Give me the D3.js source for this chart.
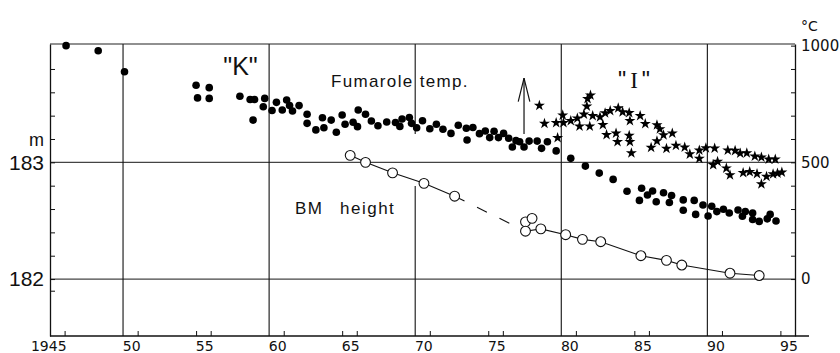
<!DOCTYPE html>
<html><head><meta charset="utf-8">
<script src="https://cdn.jsdelivr.net/npm/d3@7"></script>
<style>
body{margin:0;background:#fff}
svg{display:block}
text{fill:#111}
</style>
</head><body>
<svg id="c" width="840" height="353"></svg>
<script>
// ---- data ----
// fumarole "K" temperature (°C): [year, temp]
const fumaroleK = [[1945.1,1000],[1947.3,978],[1949.1,888],[1954.0,830],[1954.9,820],[1954.1,776],[1954.9,774],[1957.0,783],[1957.7,769],[1958.0,769],[1957.9,681],[1958.7,774],[1958.6,738],[1959.2,722],[1959.5,757],[1959.9,724],[1960.2,767],[1960.4,743],[1960.6,720],[1961.05,743],[1961.6,706],[1961.6,667],[1962.2,639],[1962.65,691],[1962.75,648],[1963.25,681],[1963.6,629],[1964.0,703],[1964.2,663],[1964.75,672],[1965.05,653],[1965.1,724],[1965.6,706],[1966.0,677],[1966.45,657],[1967.05,673],[1967.65,671],[1967.95,654],[1968.1,686],[1968.6,692],[1968.75,667],[1969.1,648],[1969.5,678],[1970.0,644],[1970.45,663],[1970.9,642],[1971.45,624],[1971.95,659],[1972.5,646],[1972.55,596],[1972.95,649],[1973.4,623],[1973.8,634],[1974.1,606],[1974.4,633],[1974.7,606],[1975.05,624],[1975.4,603],[1975.65,566],[1975.9,593],[1976.15,588],[1976.45,566],[1976.8,591],[1977.35,591],[1977.65,560],[1978.05,588],[1978.65,549],[1979.65,517],[1980.65,484],[1981.6,454],[1982.55,427],[1983.5,376],[1984.5,389],[1984.35,337],[1984.9,360],[1985.25,377],[1985.5,331],[1986.0,370],[1986.55,358],[1986.4,328],[1987.35,339],[1987.35,295],[1988.1,337],[1988.2,277],[1988.7,317],[1989.05,270],[1989.3,312],[1989.65,289],[1990.1,299],[1990.5,283],[1991.1,296],[1991.4,269],[1991.6,289],[1992.1,283],[1992.1,255],[1992.55,247],[1993.1,258],[1993.3,277],[1993.7,249]];
// fumarole "I" temperature (°C): [year, temp]
const fumaroleI = [[1977.5,743],[1977.85,666],[1978.65,669],[1978.75,605],[1979.1,702],[1979.15,669],[1979.65,678],[1980.1,689],[1980.25,654],[1980.55,706],[1980.75,740],[1980.8,772],[1981.0,787],[1980.95,654],[1981.15,699],[1981.65,694],[1981.85,661],[1982.0,711],[1982.1,618],[1982.35,721],[1982.75,624],[1982.85,588],[1982.9,733],[1983.2,716],[1983.65,712],[1983.7,678],[1983.65,615],[1983.7,588],[1983.8,540],[1984.4,699],[1984.75,665],[1985.15,563],[1985.55,660],[1985.75,643],[1985.55,591],[1986.0,617],[1986.2,559],[1986.6,624],[1986.85,572],[1987.45,564],[1987.8,535],[1988.45,552],[1988.45,516],[1988.9,561],[1989.5,560],[1989.4,489],[1989.7,503],[1990.4,552],[1990.9,550],[1991.25,539],[1991.7,540],[1992.25,526],[1992.7,522],[1993.2,513],[1993.65,513],[1990.3,475],[1990.55,446],[1991.45,455],[1991.9,459],[1992.4,451],[1992.7,407],[1993.05,439],[1993.5,450],[1993.8,453],[1994.1,457]];
// BM height (m): [year, height]
const bmHeight = [[1964.55,183.06],[1965.6,183.00],[1967.45,182.91],[1969.6,182.82],[1971.7,182.71],[1976.55,182.49],[1977.0,182.52],[1976.55,182.41],[1977.6,182.43],[1979.3,182.38],[1980.45,182.34],[1981.7,182.32],[1984.45,182.20],[1986.2,182.16],[1987.25,182.12],[1990.55,182.05],[1992.55,182.03]];
// indices of BM points joined by line pieces
const bmSolidA = [0,1,2,3,4];
const bmDashed = [4,7];
const bmSolidB = [7,8,9,10,11,12,13,14,15,16];

// axes / ticks
const xTickYears = [1945,1950,1954,1955,1960,1964,1965,1970,1974,1975,1980,1984,1985,1990,1994];
const xLabelYears = [1945,1950,1955,1960,1965,1970,1975,1980,1985,1990,1995];
const xLabelText = ["1945","50","55","60","65","70","75","80","85","90","95"];
const gridYears = [1949,1959,1969,1979,1989];
const tempTicks = [0,100,200,300,400,500,600,700,800,900,1000];
const tempLabels = [0,500,1000];
const heightTicks = [181.9,182,182.2,182.4,182.6,182.8,183,183.2,183.4,183.6,183.8];
const heightLabels = [182,183];
const gridHeights = [182,183];
const arrowYear = 1976.45, arrowTemps = [621,861];

// ---- scales ----
const svg = d3.select("#c");
const L = 50, R = 795, T = 44, B = 336;
const x = d3.scaleLinear().domain([1944,1995]).range([L,R]);
const yT = d3.scaleLinear().domain([-244,1007]).range([B,T]);
const yH = d3.scaleLinear().domain([182-244/500, 182+1007/500]).range([B,T]);

const gridColor = "#444";
// horizontal grid
svg.append("g").selectAll("line").data(gridHeights).join("line")
  .attr("x1",L).attr("x2",R).attr("y1",d=>yH(d)).attr("y2",d=>yH(d))
  .attr("stroke",gridColor).attr("stroke-width",1.3);
// vertical grid
const vg = svg.append("g").attr("stroke","#111").attr("stroke-width",1.1);
gridYears.forEach(g=>{
  if(g===1969){
    vg.append("line").attr("x1",x(g)).attr("x2",x(g)).attr("y1",T).attr("y2",134);
    vg.append("line").attr("x1",x(g)).attr("x2",x(g)).attr("y1",186).attr("y2",B);
  } else {
    vg.append("line").attr("x1",x(g)).attr("x2",x(g)).attr("y1",T).attr("y2",B);
  }
});
// top frame
svg.append("line").attr("x1",L).attr("x2",R).attr("y1",T).attr("y2",T).attr("stroke","#222").attr("stroke-width",1.1);

// left axis (height)
const axL = svg.append("g").attr("transform",`translate(${L},0)`)
  .call(d3.axisLeft(yH).tickValues(heightTicks).tickSizeInner(-5).tickSizeOuter(0).tickPadding(6)
    .tickFormat(d=>heightLabels.includes(d)?String(d):""));
axL.select(".domain").attr("stroke","#111").attr("stroke-width",1.3);
axL.selectAll(".tick line").attr("stroke","#111");
axL.selectAll("text").attr("font-family","'Liberation Sans Narrow','Liberation Sans',Arial,sans-serif").attr("font-size",21).attr("fill","#111");
svg.append("text").attr("x",44).attr("y",146).attr("text-anchor","end")
  .attr("font-family","'Liberation Sans',Arial,sans-serif").attr("font-size",18).text("m");

// right axis (temperature)
const axR = svg.append("g").attr("transform",`translate(${R},0)`)
  .call(d3.axisRight(yT).tickValues(tempTicks).tickSizeInner(-4).tickSizeOuter(0).tickPadding(6)
    .tickFormat(d=>tempLabels.includes(d)?String(d):""));
axR.select(".domain").attr("stroke","#111").attr("stroke-width",1.3);
axR.selectAll(".tick line").attr("stroke","#111");
axR.selectAll("text").attr("font-family","'DejaVu Sans',sans-serif").attr("font-size",15).attr("fill","#111");
svg.append("text").attr("x",801).attr("y",31)
  .attr("font-family","'DejaVu Sans',sans-serif").attr("font-size",14).text("°C");

// bottom axis
const axB = svg.append("g").attr("transform",`translate(0,${B})`)
  .call(d3.axisBottom(x).tickValues(xTickYears).tickSizeInner(-5).tickSizeOuter(0).tickFormat(""));
axB.select(".domain").remove();
axB.selectAll(".tick line").attr("stroke","#111");
svg.append("line").attr("x1",L).attr("x2",R+14).attr("y1",B).attr("y2",B).attr("stroke","#111").attr("stroke-width",1.3);
svg.append("g").selectAll("text").data(xLabelYears).join("text")
  .attr("x",(d,i)=> i===0 ? x(d)+2 : x(d)-6)
  .attr("y",351)
  .attr("text-anchor",(d,i)=> i===0 ? "end" : "middle")
  .attr("font-family","'DejaVu Sans',sans-serif").attr("font-size",14)
  .text((d,i)=>xLabelText[i]);

// BM height lines
const bmLine = d3.line().x(d=>x(d[0])).y(d=>yH(d[1]));
svg.append("path").attr("d",bmLine(bmSolidA.map(i=>bmHeight[i]))).attr("fill","none").attr("stroke","#111").attr("stroke-width",1.1);
svg.append("path").attr("d",bmLine(bmDashed.map(i=>bmHeight[i]))).attr("fill","none").attr("stroke","#111").attr("stroke-width",1.1).attr("stroke-dasharray","11,14");
svg.append("path").attr("d",bmLine(bmSolidB.map(i=>bmHeight[i]))).attr("fill","none").attr("stroke","#111").attr("stroke-width",1.1);
svg.append("g").selectAll("circle").data(bmHeight).join("circle")
  .attr("cx",d=>x(d[0])).attr("cy",d=>yH(d[1])).attr("r",4.9)
  .attr("fill","#fff").attr("stroke","#111").attr("stroke-width",1.1);

// fumarole K dots
svg.append("g").selectAll("circle").data(fumaroleK).join("circle")
  .attr("cx",d=>x(d[0])).attr("cy",d=>yT(d[1])).attr("r",3.8).attr("fill","#000");

// fumarole I stars
const star = d3.symbol().type(d3.symbolStar).size(38);
svg.append("g").selectAll("path").data(fumaroleI).join("path")
  .attr("transform",d=>`translate(${x(d[0])},${yT(d[1])})`).attr("d",star).attr("fill","#000");

// arrow
const ax = x(arrowYear), ay0 = yT(arrowTemps[0]), ay1 = yT(arrowTemps[1]);
svg.append("line").attr("x1",ax).attr("x2",ax).attr("y1",ay0).attr("y2",ay1).attr("stroke","#111").attr("stroke-width",1.2);
svg.append("path").attr("d",`M${ax-5.8},${ay1+23.5}L${ax},${ay1}L${ax+5.8},${ay1+23.5}`)
  .attr("fill","none").attr("stroke","#111").attr("stroke-width",1.2);

// labels
const sans = "'Liberation Sans',Arial,sans-serif";
svg.append("text").attr("x",240.5).attr("y",75).attr("text-anchor","middle")
  .attr("font-family",sans).attr("font-size",25).text('"K"');
const tI = svg.append("text").attr("x",634).attr("y",88).attr("text-anchor","middle")
  .attr("font-family",sans).attr("font-size",23);
tI.append("tspan").text('"');
tI.append("tspan").attr("dx",4).attr("font-family","'Liberation Serif',serif").text("I");
tI.append("tspan").attr("dx",4).text('"');
svg.append("text").attr("x",331).attr("y",86.5).attr("font-family",sans).attr("font-size",17)
  .attr("letter-spacing",1.35).text("Fumarole temp.");
svg.append("text").attr("x",295).attr("y",214).attr("font-family",sans).attr("font-size",17)
  .attr("letter-spacing",1.5).text("BM");
svg.append("text").attr("x",340).attr("y",214).attr("font-family",sans).attr("font-size",17)
  .attr("letter-spacing",1.5).text("height");
</script>
</body></html>
